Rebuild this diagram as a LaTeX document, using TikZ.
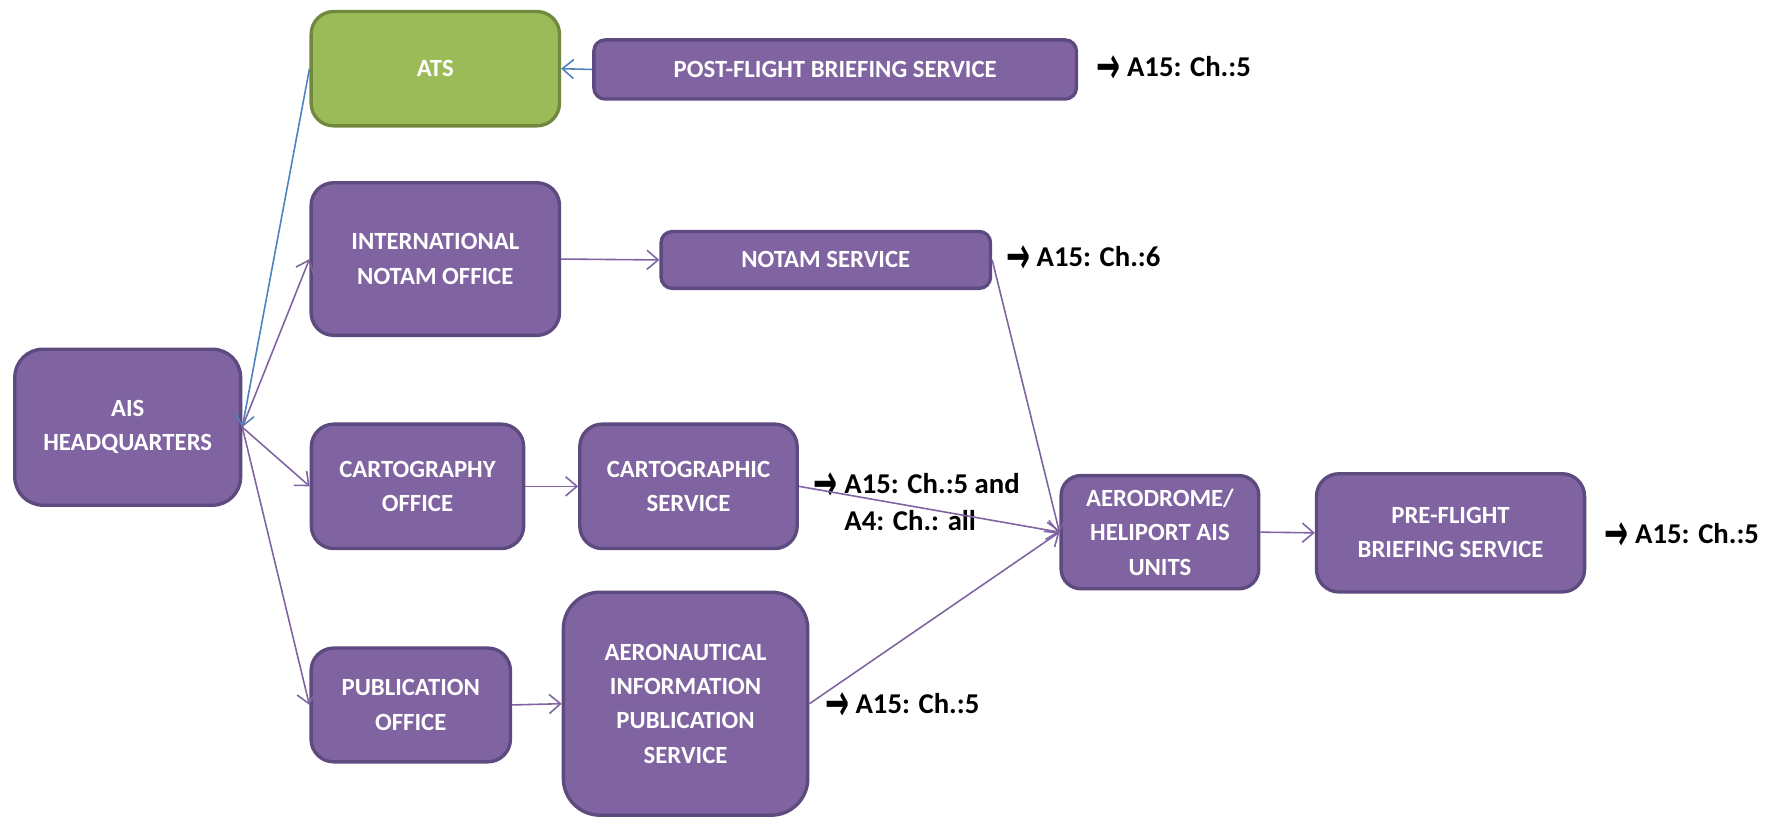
\documentclass[tikz,border=0pt]{standalone}
\usepackage{fontspec}
\setmainfont{Carlito}
\newfontfamily\arrowfont{DejaVu Sans}
\usepackage{graphicx}
\usepackage{xcolor}
\usepackage{tikz}
\usetikzlibrary{positioning,arrows.meta}

\definecolor{boxfill}{HTML}{8064A2}
\definecolor{boxline}{HTML}{5D4A7E}
\definecolor{atsfill}{HTML}{9BBB59}
\definecolor{atsline}{HTML}{71893F}
\definecolor{linkpurple}{HTML}{8064A2}
\definecolor{linkblue}{HTML}{4F81BD}

\newcommand{\unitfont}{\fontsize{12.5}{17.3}\selectfont\bfseries}
\newcommand{\notefont}{\fontsize{14.5}{18.6}\selectfont\bfseries}
\newcommand{\annexarrow}{\raisebox{-0.24em}{\arrowfont\scalebox{1}[1.8]{→}}\ }

\tikzset{
	officebox/.style={draw=boxline, fill=boxfill, line width=1.7pt, rounded corners=4mm,
		text=white, font=\unitfont, align=center, inner sep=0pt},
	atsbox/.style={officebox, draw=atsline, fill=atsfill},
	link/.style={draw=linkpurple, line width=0.8pt, -{Straight Barb[length=2mm,width=3.4mm]}},
	atslink/.style={link, draw=linkblue},
	chapterref/.style={font=\notefont, inner sep=0pt, align=left, anchor=west},
}

\begin{document}
\begin{tikzpicture}[x=0.2mm,y=-0.2mm]
	\useasboundingbox (0,0) rectangle (1568,727);
	
	% Headquarters and offices
	\node[officebox, rounded corners=5mm, minimum width=40.1mm, minimum height=27.7mm] (hq) at (113.4,379.3) {AIS\\HEADQUARTERS};
	\node[atsbox, minimum width=44.1mm, minimum height=20.3mm] (ats) at (386.5,61) {ATS};
	\node[officebox, minimum width=44.1mm, minimum height=27.1mm] (notamoff) at (386.5,230) {INTERNATIONAL\\NOTAM OFFICE};
	\node[officebox, minimum width=37.7mm, minimum height=22.1mm] (cartoff) at (370.7,431.8) {CARTOGRAPHY\\OFFICE};
	\node[officebox, minimum width=35.4mm, minimum height=20.2mm] (puboff) at (364.7,625.9) {PUBLICATION\\OFFICE};
	
	% Services
	\node[officebox, rounded corners=2mm, minimum width=85.7mm, minimum height=10.5mm] (postflight) at (741.5,61.7) {POST-FLIGHT BRIEFING SERVICE};
	\node[officebox, rounded corners=2mm, minimum width=58.5mm, minimum height=10.1mm] (notamsvc) at (733.2,230.8) {NOTAM SERVICE};
	\node[officebox, minimum width=38.6mm, minimum height=22.1mm] (cartsvc) at (611.3,431.8) {CARTOGRAPHIC\\SERVICE};
	\node[officebox, rounded corners=6.5mm, minimum width=43.4mm, minimum height=39.6mm] (aipsvc) at (608.7,624.8) {AERONAUTICAL\\INFORMATION\\PUBLICATION\\SERVICE};
	\node[officebox, rounded corners=3.5mm, minimum width=35.1mm, minimum height=20.1mm] (adunit) at (1029.9,472.5) {AERODROME/\\HELIPORT AIS\\UNITS};
	\node[officebox, minimum width=47.6mm, minimum height=21mm] (preflight) at (1287.9,473.1) {PRE-FLIGHT\\BRIEFING SERVICE};
	
	% Annex references
	\node[chapterref, right=3.2mm of postflight] (postref) {\annexarrow A15: Ch.:5};
	\node[chapterref, right=2.4mm of notamsvc] (notamref) {\annexarrow A15: Ch.:6};
	\node[chapterref, right=2.6mm of cartsvc, yshift=-3.3mm] (cartref) {\annexarrow A15: Ch.:5 and\\\phantom{\annexarrow}A4: Ch.: all};
	\node[chapterref, right=2.7mm of aipsvc, yshift=-0.5mm] (aipref) {\annexarrow A15: Ch.:5};
	\node[chapterref, right=3.2mm of preflight, yshift=-0.6mm] (preref) {\annexarrow A15: Ch.:5};
	
	% Connectors
	\draw[atslink] (postflight.west) -- (ats.east);
	\draw[atslink] (ats.west) -- (hq.east);
	\foreach \dst in {notamoff,cartoff,puboff}
		\draw[link] (hq.east) -- (\dst.west);
	\draw[link] (notamoff.east) -- (notamsvc.west);
	\draw[link] (cartoff.east) -- (cartsvc.west);
	\draw[link] (puboff.east) -- (aipsvc.west);
	\foreach \src in {notamsvc,cartsvc,aipsvc}
		\draw[link] (\src.east) -- (adunit.west);
	\draw[link] (adunit.east) -- (preflight.west);
\end{tikzpicture}
\end{document}
